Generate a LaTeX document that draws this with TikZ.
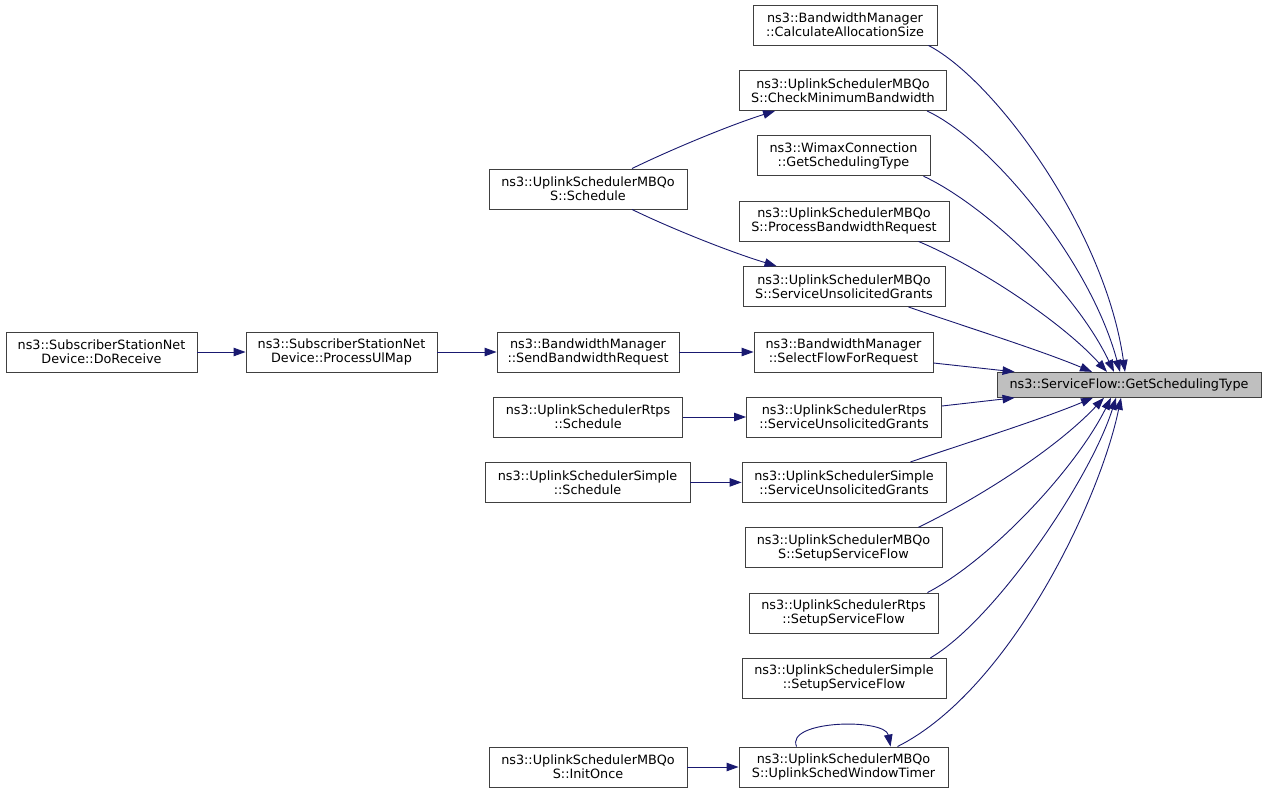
\documentclass[tikz,border=0pt]{standalone}
\usepackage{fontspec}
\setmainfont{DejaVu Sans}
\usetikzlibrary{arrows.meta,calc}
\definecolor{edgeblue}{HTML}{191970}
\definecolor{boxline}{HTML}{404040}
\definecolor{hilite}{HTML}{BFBFBF}
\begin{document}
\begin{tikzpicture}[x=1pt,y=-1pt,
  fn/.style={draw=boxline, line width=0.9pt, fill=white, inner sep=0pt,
    minimum height=40pt, minimum width=#1, align=center,
    font=\fontsize{12.8}{14}\selectfont},
  call/.style={draw=edgeblue, line width=0.9pt, -{Triangle[length=12pt,width=8.5pt]}}
]
\useasboundingbox[fill=white] (0,0) rectangle (1267,793);

% target
\node[fn=264pt, minimum height=25pt, fill=hilite] (target) at (1129,384.8) {ns3::ServiceFlow::GetSchedulingType};

% middle column
\node[fn=184pt] (calc) at (845,25) {ns3::BandwidthManager\\::CalculateAllocationSize};
\node[fn=207pt] (checkmin) at (843,90.5) {ns3::UplinkSchedulerMBQo\\S::CheckMinimumBandwidth};
\node[fn=173pt] (wimax) at (843.5,155.7) {ns3::WimaxConnection\\::GetSchedulingType};
\node[fn=210pt] (procbw) at (844,221) {ns3::UplinkSchedulerMBQo\\S::ProcessBandwidthRequest};
\node[fn=202pt] (sugmbq) at (844,286.5) {ns3::UplinkSchedulerMBQo\\S::ServiceUnsolicitedGrants};
\node[fn=179pt] (selflow) at (843.5,352) {ns3::BandwidthManager\\::SelectFlowForRequest};
\node[fn=195pt] (sugrtps) at (844,417) {ns3::UplinkSchedulerRtps\\::ServiceUnsolicitedGrants};
\node[fn=204pt] (sugsimple) at (844,482.4) {ns3::UplinkSchedulerSimple\\::ServiceUnsolicitedGrants};
\node[fn=197pt] (setupmbq) at (843.5,547.7) {ns3::UplinkSchedulerMBQo\\S::SetupServiceFlow};
\node[fn=189pt] (setuprtps) at (843.5,613) {ns3::UplinkSchedulerRtps\\::SetupServiceFlow};
\node[fn=204pt] (setupsimple) at (844,678.3) {ns3::UplinkSchedulerSimple\\::SetupServiceFlow};
\node[fn=209pt] (timer) at (843.5,767) {ns3::UplinkSchedulerMBQo\\S::UplinkSchedWindowTimer};

% left columns
\node[fn=198pt] (schedmbq) at (588,189) {ns3::UplinkSchedulerMBQo\\S::Schedule};
\node[fn=182pt] (sendbw) at (588,352) {ns3::BandwidthManager\\::SendBandwidthRequest};
\node[fn=189pt] (schedrtps) at (588,417) {ns3::UplinkSchedulerRtps\\::Schedule};
\node[fn=205pt] (schedsimple) at (587.5,482.4) {ns3::UplinkSchedulerSimple\\::Schedule};
\node[fn=198pt] (initonce) at (588,767) {ns3::UplinkSchedulerMBQo\\S::InitOnce};
\node[fn=191pt] (processul) at (341.5,352) {ns3::SubscriberStationNet\\Device::ProcessUlMap};
\node[fn=191pt] (doreceive) at (101.5,352) {ns3::SubscriberStationNet\\Device::DoReceive};

% edges into target
\draw[call] ($(calc.south east)+(-9,0)$) .. controls (995,80) and (1105,230) .. ($(target.north)+(-4,0)$);
\draw[call] ($(checkmin.south east)+(-20,0)$) .. controls (990,140) and (1090,260) .. ($(target.north)+(-9,0)$);
\draw[call] ($(wimax.south east)+(-7,0)$) .. controls (985,205) and (1075,290) .. ($(target.north)+(-15,0)$);
\draw[call] ($(procbw.south east)+(-31,0)$) .. controls (975,265) and (1060,320) .. ($(target.north)+(-22,0)$);
\draw[call] ($(sugmbq.south east)+(-37,0)$) .. controls (960,325) and (1040,350) .. ($(target.north)+(-37,0)$);
\draw[call] ($(selflow.east)+(0,11)$) -- ($(target.north west)+(18,0)$);
\draw[call] ($(sugrtps.east)+(0,-11)$) -- ($(target.south west)+(18,0)$);
\draw[call] ($(sugsimple.north east)+(-36,0)$) .. controls (960,445) and (1040,420) .. ($(target.south)+(-36,0)$);
\draw[call] ($(setupmbq.north east)+(-24,0)$) .. controls (975,500) and (1055,450) .. ($(target.south)+(-25,0)$);
\draw[call] ($(setuprtps.north east)+(-11,0)$) .. controls (990,560) and (1075,470) .. ($(target.south)+(-18,0)$);
\draw[call] ($(setupsimple.north east)+(-16,0)$) .. controls (995,620) and (1090,480) .. ($(target.south)+(-13,0)$);
\draw[call] ($(timer.north east)+(-51,0)$) .. controls (1010,690) and (1100,500) .. ($(target.south)+(-8,0)$);

% left edges
\draw[call] ($(schedmbq.north)+(44,0)$) .. controls (670,150) and (730,125) .. ($(checkmin.south west)+(36,0)$);
\draw[call] ($(schedmbq.south)+(44,0)$) .. controls (670,228) and (730,252) .. ($(sugmbq.north west)+(34,0)$);
\draw[call] (doreceive.east) -- (processul.west);
\draw[call] (processul.east) -- (sendbw.west);
\draw[call] (sendbw.east) -- (selflow.west);
\draw[call] (schedrtps.east) -- (sugrtps.west);
\draw[call] (schedsimple.east) -- (sugsimple.west);
\draw[call] (initonce.east) -- (timer.west);
\draw[call] ($(timer.north west)+(58,0)$) .. controls (785,720) and (885,718) .. ($(timer.north west)+(152,0)$);
\end{tikzpicture}
\end{document}
